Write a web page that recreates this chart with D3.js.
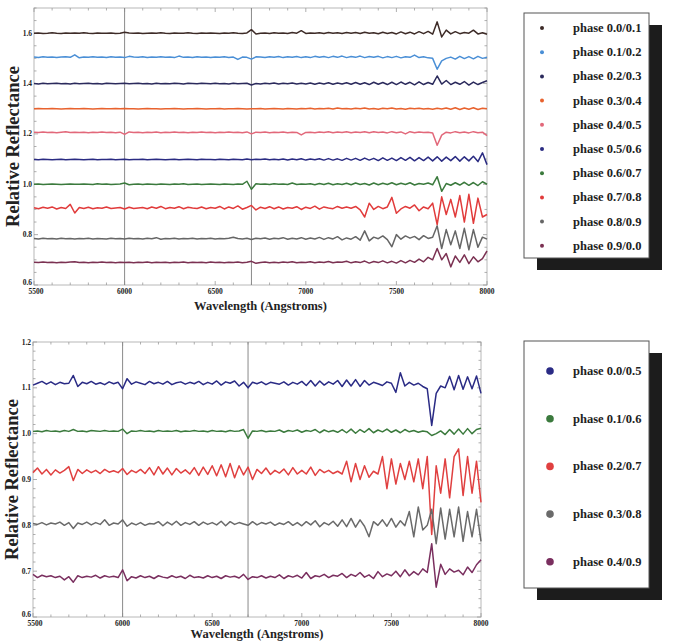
<!DOCTYPE html>
<html><head><meta charset="utf-8">
<script src="https://cdn.jsdelivr.net/npm/d3@7/dist/d3.min.js"></script>
<style>body{margin:0;background:#fff}svg{display:block}</style>
</head><body>
<script>
const wavelength=[5500,5525,5550,5575,5600,5625,5650,5675,5700,5725,5750,5775,5800,5825,5850,5875,5900,5925,5950,5975,6000,6025,6050,6075,6100,6125,6150,6175,6200,6225,6250,6275,6300,6325,6350,6375,6400,6425,6450,6475,6500,6525,6550,6575,6600,6625,6650,6675,6700,6725,6750,6775,6800,6825,6850,6875,6900,6925,6950,6975,7000,7025,7050,7075,7100,7125,7150,7175,7200,7225,7250,7275,7300,7325,7350,7375,7400,7425,7450,7475,7500,7525,7550,7575,7600,7625,7650,7675,7700,7725,7750,7775,7800,7825,7850,7875,7900,7925,7950,7975,8000];

const topLabels=["phase 0.0/0.1","phase 0.1/0.2","phase 0.2/0.3","phase 0.3/0.4","phase 0.4/0.5","phase 0.5/0.6","phase 0.6/0.7","phase 0.7/0.8","phase 0.8/0.9","phase 0.9/0.0"];
const topColors=["#3d2b27","#4a8fd6","#2b2a5c","#e8622e","#e2687a","#2a2b82","#3b7a3d","#e13b3b","#666666","#7b3152"];
const bottomLabels=["phase 0.0/0.5","phase 0.1/0.6","phase 0.2/0.7","phase 0.3/0.8","phase 0.4/0.9"];
const bottomColors=["#2a2b85","#3b7a3d","#e04040","#6a6a6a","#7a2f5f"];

const topYTicks=[0.6,0.8,1.0,1.2,1.4,1.6];
const bottomYTicks=[0.6,0.7,0.8,0.9,1.0,1.1,1.2];
const xTicks=[5500,6000,6500,7000,7500,8000];
const markerLines=[6000,6700];

const t0=[1.600,1.601,1.599,1.600,1.602,1.600,1.599,1.601,1.600,1.601,1.600,1.602,1.600,1.599,1.601,1.600,1.600,1.601,1.599,1.600,1.604,1.601,1.600,1.601,1.599,1.600,1.601,1.600,1.602,1.600,1.599,1.601,1.600,1.600,1.602,1.600,1.599,1.601,1.600,1.601,1.600,1.599,1.601,1.600,1.602,1.600,1.599,1.601,1.614,1.597,1.600,1.601,1.599,1.602,1.600,1.601,1.599,1.603,1.600,1.610,1.599,1.601,1.600,1.602,1.599,1.603,1.600,1.602,1.599,1.603,1.600,1.603,1.599,1.604,1.600,1.602,1.598,1.604,1.599,1.603,1.597,1.605,1.598,1.604,1.597,1.606,1.598,1.607,1.596,1.645,1.585,1.612,1.597,1.606,1.598,1.603,1.600,1.612,1.597,1.602,1.596];
const t1=[1.505,1.503,1.506,1.504,1.505,1.503,1.505,1.506,1.504,1.514,1.502,1.505,1.504,1.506,1.504,1.505,1.503,1.506,1.504,1.505,1.503,1.508,1.505,1.504,1.506,1.503,1.505,1.504,1.506,1.504,1.505,1.503,1.509,1.504,1.505,1.503,1.506,1.504,1.505,1.503,1.505,1.504,1.506,1.503,1.505,1.496,1.505,1.504,1.497,1.506,1.505,1.503,1.506,1.504,1.507,1.503,1.506,1.504,1.507,1.503,1.506,1.503,1.508,1.504,1.507,1.503,1.508,1.504,1.509,1.503,1.507,1.504,1.509,1.503,1.507,1.504,1.508,1.502,1.507,1.503,1.508,1.502,1.506,1.504,1.513,1.503,1.506,1.502,1.500,1.457,1.490,1.500,1.505,1.497,1.508,1.499,1.507,1.498,1.508,1.500,1.504];
const t2=[1.400,1.398,1.401,1.399,1.400,1.401,1.399,1.400,1.398,1.401,1.399,1.400,1.401,1.399,1.400,1.398,1.401,1.400,1.399,1.400,1.401,1.399,1.400,1.401,1.399,1.400,1.398,1.401,1.399,1.400,1.399,1.401,1.400,1.398,1.401,1.400,1.399,1.401,1.400,1.399,1.401,1.399,1.400,1.398,1.401,1.399,1.400,1.401,1.394,1.400,1.398,1.401,1.399,1.402,1.398,1.401,1.399,1.402,1.398,1.401,1.398,1.402,1.397,1.402,1.398,1.403,1.397,1.402,1.398,1.403,1.397,1.404,1.397,1.403,1.396,1.405,1.397,1.404,1.396,1.405,1.396,1.406,1.397,1.405,1.395,1.407,1.396,1.404,1.397,1.430,1.398,1.412,1.396,1.405,1.397,1.408,1.394,1.406,1.396,1.404,1.411];
const t3=[1.300,1.301,1.300,1.300,1.301,1.300,1.299,1.300,1.301,1.300,1.300,1.301,1.300,1.299,1.300,1.301,1.300,1.300,1.301,1.300,1.301,1.300,1.300,1.299,1.300,1.301,1.300,1.300,1.299,1.300,1.300,1.301,1.300,1.299,1.300,1.300,1.301,1.300,1.299,1.300,1.300,1.301,1.299,1.300,1.300,1.301,1.300,1.299,1.300,1.300,1.301,1.299,1.300,1.301,1.300,1.299,1.301,1.300,1.299,1.301,1.300,1.302,1.299,1.301,1.300,1.302,1.299,1.303,1.300,1.301,1.299,1.302,1.300,1.303,1.299,1.301,1.298,1.302,1.300,1.303,1.299,1.301,1.298,1.302,1.300,1.302,1.299,1.301,1.298,1.302,1.299,1.303,1.298,1.304,1.297,1.303,1.298,1.304,1.297,1.302,1.300];
const t4=[1.207,1.206,1.208,1.206,1.207,1.205,1.207,1.209,1.206,1.207,1.206,1.207,1.205,1.207,1.206,1.208,1.206,1.207,1.205,1.207,1.198,1.208,1.206,1.207,1.205,1.207,1.206,1.208,1.205,1.207,1.206,1.208,1.206,1.207,1.205,1.207,1.206,1.208,1.206,1.207,1.205,1.207,1.206,1.208,1.206,1.207,1.205,1.208,1.200,1.207,1.206,1.208,1.205,1.207,1.206,1.208,1.205,1.207,1.206,1.196,1.206,1.207,1.205,1.208,1.206,1.209,1.205,1.208,1.206,1.209,1.205,1.208,1.206,1.209,1.205,1.209,1.206,1.208,1.204,1.209,1.205,1.208,1.200,1.209,1.205,1.208,1.206,1.207,1.204,1.155,1.195,1.207,1.204,1.209,1.205,1.208,1.204,1.209,1.205,1.207,1.193];
const t5=[1.098,1.097,1.099,1.098,1.097,1.098,1.099,1.097,1.098,1.099,1.098,1.097,1.098,1.099,1.097,1.098,1.098,1.099,1.097,1.098,1.099,1.097,1.098,1.098,1.099,1.097,1.098,1.099,1.098,1.097,1.098,1.099,1.097,1.098,1.099,1.098,1.097,1.099,1.098,1.098,1.097,1.099,1.098,1.097,1.099,1.098,1.097,1.100,1.097,1.099,1.098,1.100,1.097,1.099,1.097,1.100,1.096,1.100,1.097,1.101,1.096,1.100,1.097,1.101,1.096,1.102,1.096,1.101,1.095,1.103,1.096,1.103,1.095,1.104,1.096,1.103,1.094,1.105,1.095,1.104,1.094,1.106,1.095,1.107,1.093,1.106,1.094,1.108,1.093,1.109,1.092,1.108,1.094,1.110,1.092,1.109,1.093,1.111,1.090,1.125,1.078];
const t6=[1.000,1.001,0.999,1.000,1.001,1.000,0.999,1.000,1.001,1.000,1.000,1.001,1.000,0.999,1.002,1.000,1.001,0.999,1.000,1.001,1.005,0.998,1.000,1.001,0.999,1.001,1.000,0.999,1.001,1.000,0.999,1.001,1.000,1.002,0.999,1.000,1.001,0.999,1.000,1.001,1.000,0.999,1.001,1.000,0.999,1.001,1.000,1.012,0.980,1.002,1.000,1.001,0.999,1.002,1.000,1.001,0.999,1.005,0.999,1.001,1.000,1.002,0.998,1.003,0.999,1.004,0.998,1.002,0.999,1.004,0.998,1.005,0.999,1.003,0.997,1.005,0.998,1.004,0.999,1.006,0.998,1.004,0.999,1.006,0.997,1.003,1.000,1.005,0.998,1.030,0.972,1.003,0.996,1.006,0.997,1.008,0.996,1.007,0.995,1.010,1.000];
const t7=[0.907,0.903,0.909,0.905,0.910,0.902,0.908,0.904,0.920,0.886,0.908,0.904,0.909,0.903,0.907,0.905,0.910,0.904,0.906,0.908,0.902,0.909,0.904,0.906,0.908,0.903,0.910,0.905,0.912,0.903,0.908,0.905,0.911,0.903,0.909,0.906,0.904,0.910,0.903,0.908,0.905,0.912,0.902,0.910,0.904,0.914,0.901,0.908,0.916,0.898,0.909,0.904,0.911,0.903,0.910,0.902,0.908,0.905,0.911,0.900,0.909,0.904,0.913,0.901,0.910,0.906,0.903,0.912,0.905,0.910,0.905,0.912,0.898,0.870,0.925,0.900,0.912,0.903,0.910,0.948,0.885,0.902,0.912,0.905,0.918,0.895,0.910,0.903,0.925,0.840,0.950,0.880,0.940,0.870,0.955,0.850,0.960,0.845,0.945,0.870,0.880];
const t8=[0.785,0.783,0.786,0.784,0.785,0.783,0.786,0.784,0.785,0.783,0.785,0.784,0.786,0.783,0.785,0.784,0.783,0.786,0.784,0.785,0.783,0.786,0.784,0.785,0.783,0.786,0.784,0.788,0.782,0.785,0.784,0.786,0.783,0.785,0.784,0.786,0.783,0.785,0.784,0.786,0.783,0.785,0.784,0.786,0.790,0.785,0.783,0.786,0.781,0.786,0.784,0.787,0.782,0.786,0.784,0.788,0.782,0.786,0.783,0.788,0.782,0.787,0.783,0.789,0.781,0.788,0.783,0.792,0.779,0.787,0.782,0.792,0.778,0.815,0.775,0.790,0.784,0.795,0.780,0.752,0.800,0.782,0.795,0.786,0.793,0.780,0.796,0.785,0.790,0.835,0.745,0.820,0.760,0.815,0.745,0.825,0.740,0.820,0.750,0.790,0.782];
const t9=[0.690,0.689,0.691,0.689,0.690,0.688,0.690,0.689,0.691,0.692,0.689,0.690,0.688,0.690,0.689,0.691,0.689,0.690,0.688,0.690,0.689,0.690,0.688,0.690,0.689,0.691,0.688,0.690,0.689,0.690,0.688,0.690,0.689,0.691,0.688,0.690,0.689,0.690,0.688,0.691,0.689,0.690,0.688,0.690,0.689,0.691,0.688,0.690,0.694,0.686,0.689,0.691,0.688,0.690,0.688,0.691,0.689,0.692,0.688,0.690,0.689,0.692,0.688,0.691,0.689,0.693,0.688,0.691,0.690,0.694,0.688,0.692,0.689,0.695,0.687,0.693,0.689,0.696,0.688,0.694,0.687,0.697,0.688,0.698,0.690,0.703,0.692,0.710,0.700,0.745,0.700,0.725,0.672,0.715,0.690,0.720,0.685,0.712,0.692,0.705,0.735];

const b0=[1.106,1.110,1.114,1.108,1.113,1.107,1.112,1.109,1.110,1.127,1.103,1.112,1.109,1.114,1.108,1.111,1.107,1.113,1.109,1.112,1.098,1.120,1.108,1.113,1.110,1.107,1.114,1.109,1.112,1.108,1.114,1.107,1.111,1.113,1.108,1.112,1.109,1.114,1.107,1.112,1.108,1.115,1.106,1.113,1.110,1.115,1.104,1.112,1.100,1.112,1.109,1.113,1.107,1.112,1.110,1.108,1.113,1.106,1.112,1.108,1.114,1.105,1.116,1.104,1.115,1.106,1.113,1.108,1.116,1.103,1.117,1.104,1.118,1.103,1.116,1.106,1.112,1.109,1.105,1.113,1.110,1.090,1.133,1.104,1.112,1.106,1.110,1.103,1.098,1.018,1.088,1.104,1.100,1.125,1.096,1.127,1.097,1.124,1.098,1.126,1.088];
const b1=[1.005,1.006,1.004,1.007,1.005,1.006,1.004,1.007,1.005,1.009,1.005,1.006,1.004,1.007,1.006,1.005,1.007,1.005,1.006,1.005,1.010,1.000,1.006,1.005,1.007,1.005,1.006,1.004,1.007,1.005,1.006,1.005,1.007,1.004,1.006,1.005,1.007,1.005,1.006,1.004,1.007,1.005,1.006,1.004,1.007,1.005,1.006,1.009,0.990,1.006,1.005,1.007,1.004,1.006,1.005,1.008,1.003,1.007,1.005,1.008,1.003,1.007,1.005,1.009,1.002,1.008,1.004,1.007,1.003,1.009,1.002,1.010,1.001,1.009,1.003,1.011,1.002,1.008,1.004,1.010,1.003,1.008,1.002,1.009,1.004,1.007,1.003,1.006,1.004,0.996,1.000,1.006,0.998,1.009,0.999,1.010,0.999,1.011,1.000,1.009,1.012];
const b2=[0.915,0.925,0.912,0.922,0.910,0.921,0.914,0.920,0.928,0.898,0.922,0.913,0.921,0.915,0.920,0.913,0.922,0.916,0.919,0.915,0.924,0.911,0.920,0.915,0.922,0.913,0.926,0.910,0.928,0.912,0.925,0.910,0.924,0.914,0.921,0.912,0.926,0.909,0.927,0.911,0.930,0.908,0.932,0.906,0.935,0.904,0.930,0.910,0.927,0.900,0.922,0.913,0.925,0.911,0.920,0.914,0.923,0.910,0.926,0.912,0.920,0.912,0.927,0.909,0.922,0.915,0.920,0.913,0.918,0.912,0.940,0.895,0.935,0.900,0.930,0.905,0.918,0.912,0.950,0.880,0.945,0.890,0.935,0.900,0.940,0.895,0.945,0.880,0.950,0.780,0.930,0.870,0.945,0.860,0.950,0.967,0.865,0.950,0.870,0.940,0.850];
const b3=[0.804,0.802,0.806,0.801,0.805,0.803,0.807,0.800,0.806,0.793,0.805,0.802,0.807,0.801,0.806,0.802,0.812,0.800,0.805,0.803,0.812,0.798,0.805,0.801,0.806,0.800,0.804,0.803,0.808,0.799,0.807,0.801,0.809,0.800,0.806,0.802,0.808,0.800,0.807,0.802,0.806,0.801,0.809,0.799,0.808,0.802,0.806,0.803,0.800,0.808,0.801,0.806,0.803,0.807,0.800,0.805,0.802,0.808,0.800,0.806,0.799,0.808,0.801,0.810,0.797,0.806,0.801,0.809,0.798,0.812,0.797,0.815,0.796,0.812,0.798,0.775,0.808,0.800,0.812,0.798,0.815,0.796,0.810,0.799,0.830,0.775,0.840,0.790,0.800,0.835,0.760,0.838,0.770,0.835,0.775,0.840,0.765,0.830,0.775,0.835,0.765];
const b4=[0.693,0.686,0.691,0.688,0.690,0.686,0.689,0.681,0.688,0.676,0.690,0.686,0.689,0.687,0.691,0.685,0.690,0.687,0.689,0.686,0.703,0.679,0.688,0.685,0.690,0.686,0.689,0.684,0.690,0.687,0.685,0.690,0.686,0.689,0.684,0.691,0.686,0.688,0.685,0.690,0.686,0.689,0.684,0.690,0.687,0.689,0.685,0.693,0.682,0.688,0.686,0.690,0.685,0.689,0.686,0.692,0.684,0.690,0.687,0.691,0.685,0.697,0.684,0.690,0.688,0.693,0.686,0.691,0.689,0.695,0.686,0.693,0.689,0.697,0.687,0.692,0.684,0.699,0.688,0.694,0.690,0.700,0.688,0.703,0.690,0.699,0.692,0.705,0.697,0.760,0.665,0.715,0.693,0.705,0.698,0.702,0.692,0.709,0.697,0.714,0.725];

const topSeries=[t0,t1,t2,t3,t4,t5,t6,t7,t8,t9];
const bottomSeries=[b0,b1,b2,b3,b4];

const W=681,H=643;
const svg=d3.select("body").append("svg").attr("width",W).attr("height",H);
const serif="'Liberation Serif','Times New Roman',serif";

function panel(cfg){
  const g=svg.append("g");
  const x=d3.scaleLinear().domain([5500,8000]).range([cfg.x0,cfg.x1]);
  const y=d3.scaleLinear().domain(cfg.yDomain).range([cfg.y1,cfg.y0]);
  const xMinor=d3.range(5500,8001,100);
  const yMinor=d3.range(cfg.yDomain[0],cfg.yDomain[1]+1e-9,cfg.yMinorStep);
  g.append("rect").attr("x",cfg.x0).attr("y",cfg.y0).attr("width",cfg.x1-cfg.x0).attr("height",cfg.y1-cfg.y0)
    .attr("fill","none").attr("stroke","#b8b8b8").attr("stroke-width",1);
  const tk=g.append("g").attr("stroke","#9a9a9a").attr("stroke-width",0.8);
  xMinor.forEach(v=>{
    const major=xTicks.includes(v), L=major?4:2.5, px=x(v);
    tk.append("line").attr("x1",px).attr("x2",px).attr("y1",cfg.y1).attr("y2",cfg.y1-L);
    tk.append("line").attr("x1",px).attr("x2",px).attr("y1",cfg.y0).attr("y2",cfg.y0+L);
  });
  yMinor.forEach(v=>{
    const major=cfg.yTicks.some(t=>Math.abs(t-v)<1e-6), L=major?4:2.5, py=y(v);
    tk.append("line").attr("y1",py).attr("y2",py).attr("x1",cfg.x0).attr("x2",cfg.x0+L);
    tk.append("line").attr("y1",py).attr("y2",py).attr("x1",cfg.x1).attr("x2",cfg.x1-L);
  });
  markerLines.forEach(v=>{
    g.append("line").attr("x1",x(v)).attr("x2",x(v)).attr("y1",cfg.y0).attr("y2",cfg.y1)
      .attr("stroke","#8a8a8a").attr("stroke-width",1);
  });
  g.selectAll(".xl").data(xTicks).enter().append("text")
    .attr("x",d=>x(d)+(d===5500?2:0)).attr("y",cfg.y1+9).attr("text-anchor","middle")
    .attr("font-family",serif).attr("font-weight","bold").attr("font-size",7.5).attr("fill","#222")
    .text(d=>d);
  g.selectAll(".yl").data(cfg.yTicks).enter().append("text")
    .attr("x",cfg.x0-2).attr("y",d=>y(d)+(d===cfg.yDomain[0]?0:2.5)).attr("text-anchor","end")
    .attr("font-family",serif).attr("font-weight","bold").attr("font-size",7.5).attr("fill","#222")
    .text(d=>d3.format(".1f")(d));
  const line=d3.line().x((d,i)=>x(wavelength[i])).y(d=>y(d));
  cfg.series.forEach((s,k)=>{
    g.append("path").datum(s).attr("d",line).attr("fill","none")
      .attr("stroke",cfg.colors[k]).attr("stroke-width",1.5).attr("stroke-linejoin","round");
  });
  g.append("text").attr("x",(cfg.x0+cfg.x1)/2).attr("y",cfg.titleY).attr("text-anchor","middle")
    .attr("font-family",serif).attr("font-weight","bold").attr("font-size",12.5).attr("fill","#222")
    .text("Wavelength (Angstroms)");
  g.append("text").attr("transform",`translate(${cfg.x0-15},${(cfg.y0+cfg.y1)/2}) rotate(-90)`)
    .attr("text-anchor","middle").attr("font-family",serif).attr("font-weight","bold").attr("font-size",18.5).attr("fill","#222")
    .text("Relative Reflectance");
  const lg=svg.append("g");
  lg.append("rect").attr("x",cfg.lx+13).attr("y",cfg.ly+12).attr("width",cfg.lw).attr("height",cfg.lh).attr("fill","#1c1c1c");
  lg.append("rect").attr("x",cfg.lx).attr("y",cfg.ly).attr("width",cfg.lw).attr("height",cfg.lh)
    .attr("fill","#fff").attr("stroke","#555").attr("stroke-width",1);
  cfg.labels.forEach((lab,k)=>{
    const yy=cfg.ly+cfg.lFirst+k*cfg.lStep;
    lg.append("circle").attr("cx",cfg.lx+cfg.dotX).attr("cy",yy).attr("r",cfg.dotR).attr("fill",cfg.colors[k]);
    lg.append("text").attr("x",cfg.lx+49).attr("y",yy+4).attr("font-family",serif).attr("font-weight","bold")
      .attr("font-size",12.5).attr("fill","#222").text(lab);
  });
}

panel({x0:34,x1:487,y0:8,y1:285,yDomain:[0.6,1.7],yTicks:topYTicks,yMinorStep:0.05,series:topSeries,colors:topColors,labels:topLabels,
  lx:524,ly:13,lw:125,lh:245,lFirst:15,lStep:24.2,dotX:18,dotR:2,titleY:310});
panel({x0:33,x1:481,y0:342,y1:617,yDomain:[0.6,1.2],yTicks:bottomYTicks,yMinorStep:0.02,series:bottomSeries,colors:bottomColors,labels:bottomLabels,
  lx:524,ly:341,lw:125,lh:247,lFirst:30,lStep:47.7,dotX:26,dotR:3.8,titleY:638});
</script>
</body></html>
